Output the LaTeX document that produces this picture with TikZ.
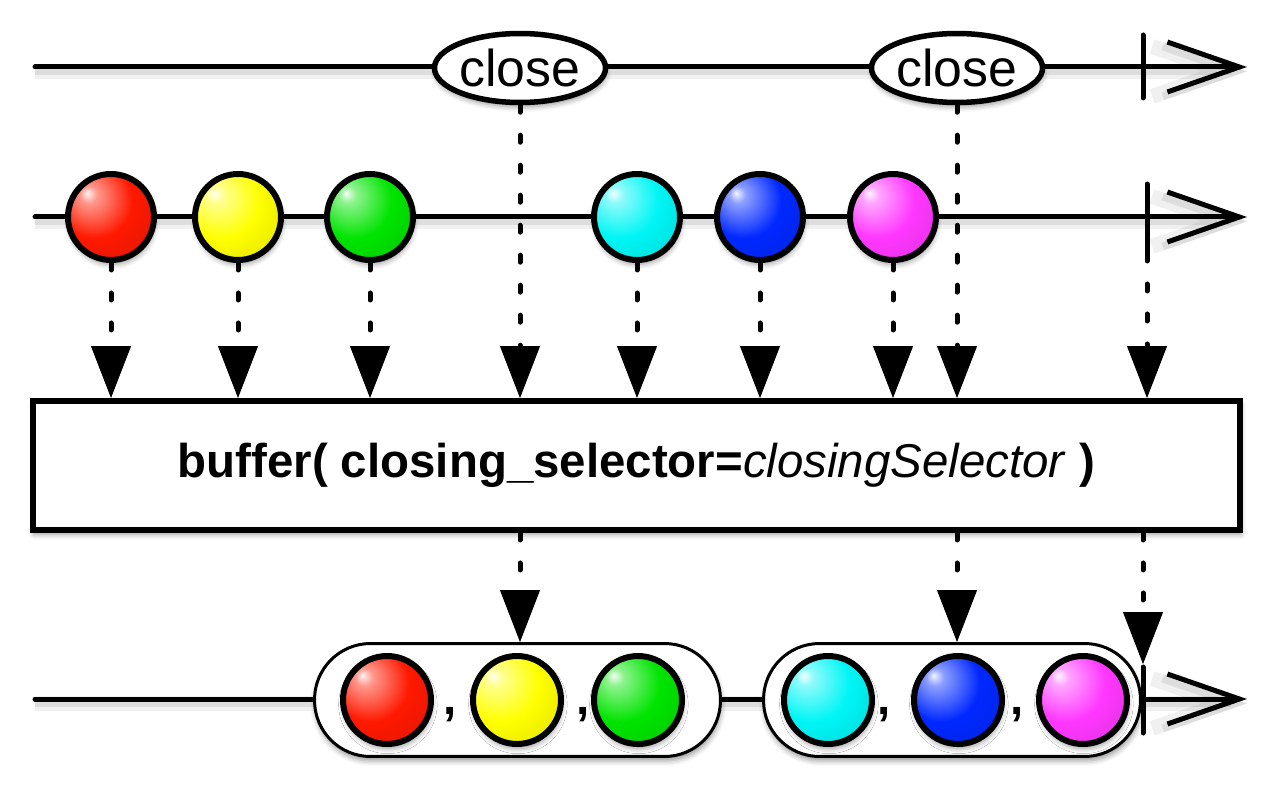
\documentclass[tikz,border=0pt]{standalone}
\usepackage{fontspec}
\setmainfont{Liberation Sans}
\usetikzlibrary{arrows.meta,shapes.geometric,shadows.blur,calc}
\newcommand\diagfont{\fontsize{27pt}{32pt}\selectfont}
\newcommand\evtfont{\fontsize{29.5pt}{34pt}\selectfont}
\colorlet{mc}{red}
\definecolor{mred}{RGB}{255,25,0}
\definecolor{myellow}{RGB}{255,255,0}
\definecolor{mgreen}{RGB}{0,228,0}
\definecolor{mcyan}{RGB}{0,245,245}
\definecolor{mblue}{RGB}{0,40,255}
\definecolor{mmag}{RGB}{255,55,255}
\pgfdeclareradialshading[mc]{marble}{\pgfpoint{-14bp}{14bp}}{%
  color(0bp)=(mc!5!white); color(5bp)=(mc!45!white); color(22bp)=(mc);
  color(42bp)=(mc!88!black); color(56bp)=(mc!60!black); color(70bp)=(mc!45!black)}
\tikzset{
 axis/.style={line width=0.1cm, line cap=round, -{Straight Barb[length=1.44cm,width=1.0cm]},
   preaction={draw=black, draw opacity=0.06, line width=0.3cm, transform canvas={yshift=-2.5pt}},
   preaction={draw=black, draw opacity=0.08, line width=0.16cm, transform canvas={yshift=-2.5pt}}},
 tickmark/.style={line width=0.1cm, line cap=round},
 flow/.style={line width=0.1cm, line cap=round, dash pattern=on 0.14cm off 0.46cm, -{Triangle[length=1.04cm,width=0.8cm,line width=0.5pt]}},
 shadowed/.style={blur shadow={shadow xshift=0.5pt, shadow yshift=-2.5pt, shadow blur radius=3pt, shadow opacity=40}},
 marble/.style={circle, draw=black, line width=0.12cm, minimum size=1.72cm, inner sep=0pt, shadowed, /utils/exec={\colorlet{mc}{#1}}, shading=marble},
 bigmarble/.style={marble=#1, minimum size=1.76cm},
 evt/.style={ellipse, draw, fill=white, line width=0.11cm, minimum width=3.22cm, minimum height=1.38cm, inner sep=0pt, shadowed, font=\evtfont},
 opbox/.style={rectangle, draw, fill=white, line width=0.12cm, minimum width=24.14cm, minimum height=2.58cm, inner sep=0pt, shadowed, font=\diagfont},
 group/.style={rectangle, rounded corners=1.12cm, draw, fill=white, line width=0.06cm, minimum height=2.26cm, inner sep=0pt, shadowed},
 sep/.style={font=\diagfont\bfseries, anchor=base, inner sep=0pt}
}
\begin{document}
\begin{tikzpicture}[x=0.02cm,y=-0.02cm]
\useasboundingbox (0,0) rectangle (1280,790);
% ---- top line: closing selector
\coordinate (a0) at (35,67);
\coordinate (a1) at (1247,67);
\draw[axis] (a0) -- (a1);
\coordinate (k1t) at (1143,35);
\coordinate (k1b) at (1143,98);
\draw[tickmark] (k1t) -- (k1b);
\node[evt] (c1) at (520,68) {close};
\node[evt] (c2) at (957,68) {close};
% ---- second line: source
\coordinate (b0) at (35,217);
\coordinate (b1) at (1247,217);
\draw[axis] (b0) -- (b1);
\coordinate (k2t) at (1147,184);
\coordinate (k2b) at (1147,254);
\draw[tickmark] (k2t) -- (k2b);
\node[marble=mred] (m1) at (111,217) {};
\node[marble=myellow] (m2) at (238,217) {};
\node[marble=mgreen] (m3) at (370,217) {};
\node[marble=mcyan] (m4) at (637,217) {};
\node[marble=mblue] (m5) at (760,217) {};
\node[marble=mmag] (m6) at (893,217) {};
% ---- operator box
\node[opbox] (box) at (636.5,465.5) {\textbf{buffer( closing\_selector=}\textit{closingSelector}\textbf{ )}};
% ---- flows into the box
\foreach \m in {m1,m2,m3,m4,m5,m6,c1,c2}
  \draw[flow] (\m.south) -- (\m.south |- box.north);
\draw[flow] (k2b) -- (k2b |- box.north);
% ---- bottom line: result
\coordinate (r0) at (35,699);
\coordinate (r1) at (1247,699);
\draw[axis] (r0) -- (r1);
\coordinate (k3t) at (1143,667);
\coordinate (k3b) at (1143,733);
\draw[tickmark] (k3t) -- (k3b);
\node[group, minimum width=8.12cm] (g1) at (517.5,700) {};
\node[group, minimum width=7.54cm] (g2) at (952,700) {};
\node[bigmarble=mred] (n1) at (387,700) {};
\node[bigmarble=myellow] (n2) at (517,700) {};
\node[bigmarble=mgreen] (n3) at (638,700) {};
\node[bigmarble=mcyan] (n4) at (828,700) {};
\node[bigmarble=mblue] (n5) at (958,700) {};
\node[bigmarble=mmag] (n6) at (1083,700) {};
\node[sep] (s1) at (450,714) {,};
\node[sep] (s2) at (583,714) {,};
\node[sep] (s3) at (884,714) {,};
\node[sep] (s4) at (1017,714) {,};
% ---- flows out of the box
\coordinate (k3a) at (1143,664);
\draw[flow] (box.south -| c1.south) -- (c1.south |- g1.north);
\draw[flow] (box.south -| c2.south) -- (c2.south |- g2.north);
\draw[flow] (box.south -| k3a) -- (k3a);
\end{tikzpicture}
\end{document}
